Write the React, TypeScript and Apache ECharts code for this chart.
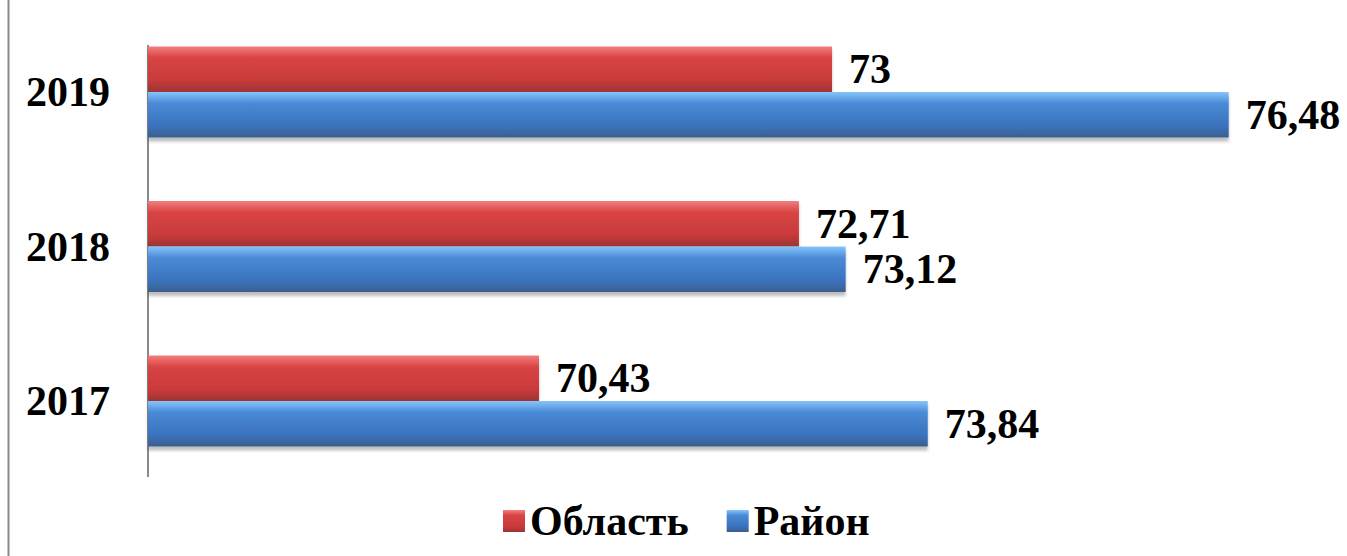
import React, { useEffect, useRef } from "react";
import * as echarts from "echarts";

const categories = ["2017", "2018", "2019"];
const oblastValues = [70.43, 72.71, 73];
const raionValues = [73.84, 73.12, 76.48];
const seriesNames = ["Область", "Район"];

const FONT = "Liberation Serif";

const fmt = (v: number) => String(v).replace(".", ",");

export default function App() {
  const ref = useRef<HTMLDivElement>(null);
  useEffect(() => {
    document.body.style.margin = "0";
    const chart = echarts.init(ref.current!, undefined, { renderer: "svg" });
    const redGrad = new echarts.graphic.LinearGradient(0, 0, 0, 1, [
      { offset: 0, color: "#f47e7e" },
      { offset: 0.25, color: "#d84444" },
      { offset: 0.75, color: "#c93a3a" },
      { offset: 1, color: "#9c3434" },
    ]);
    const blueGrad = new echarts.graphic.LinearGradient(0, 0, 0, 1, [
      { offset: 0, color: "#86c4fb" },
      { offset: 0.25, color: "#4a8ad6" },
      { offset: 0.75, color: "#3a72bd" },
      { offset: 1, color: "#3b5f8c" },
    ]);
    const label = {
      show: true,
      position: "right" as const,
      distance: 17,
      formatter: (p: any) => fmt(p.value),
      fontFamily: FONT,
      fontWeight: "bold" as const,
      fontSize: 42,
      color: "#000",
    };
    chart.setOption({
      animation: false,
      backgroundColor: "#fff",
      textStyle: { fontFamily: FONT },
      grid: {
        left: 148,
        width: 1140,
        top: 14.75,
        bottom: 77.75,
        containLabel: false,
        outerBoundsMode: "none",
      },
      xAxis: {
        type: "value",
        min: 67,
        max: 77,
        show: false,
        splitLine: { show: false },
      },
      yAxis: {
        type: "category",
        data: categories,
        axisLine: { show: false },
        axisTick: { show: false },
        axisLabel: {
          margin: 38,
          fontFamily: FONT,
          fontWeight: "bold",
          fontSize: 42,
          color: "#000",
        },
      },
      legend: {
        data: seriesNames,
        left: 498,
        top: 495,
        icon: "rect",
        itemWidth: 22,
        itemHeight: 22,
        itemGap: 38,
        textStyle: {
          fontFamily: FONT,
          fontWeight: "bold",
          fontSize: 42,
          color: "#000",
        },
      },
      graphic: [
        { type: "line", shape: { x1: 8.5, y1: 0, x2: 8.5, y2: 556 }, style: { stroke: "#8a8a8a", lineWidth: 2 } },
        { type: "line", shape: { x1: 148, y1: 45, x2: 148, y2: 477 }, style: { stroke: "#8a8a8a", lineWidth: 2 } },
      ],
      series: [
        {
          name: seriesNames[0],
          type: "bar",
          data: oblastValues,
          barGap: "0%",
          barCategoryGap: "41%",
          itemStyle: {
            color: redGrad,
            shadowColor: "rgba(0,0,0,0.25)",
            shadowOffsetY: 3,
            shadowBlur: 3,
          },
          label,
        },
        {
          name: seriesNames[1],
          type: "bar",
          data: raionValues,
          barGap: "0%",
          barCategoryGap: "41%",
          itemStyle: {
            color: blueGrad,
            shadowColor: "rgba(0,0,0,0.25)",
            shadowOffsetY: 4,
            shadowBlur: 3,
          },
          label,
        },
      ],
    });
    return () => chart.dispose();
  }, []);
  return <div ref={ref} style={{ width: 1347, height: 556 }} />;
}
